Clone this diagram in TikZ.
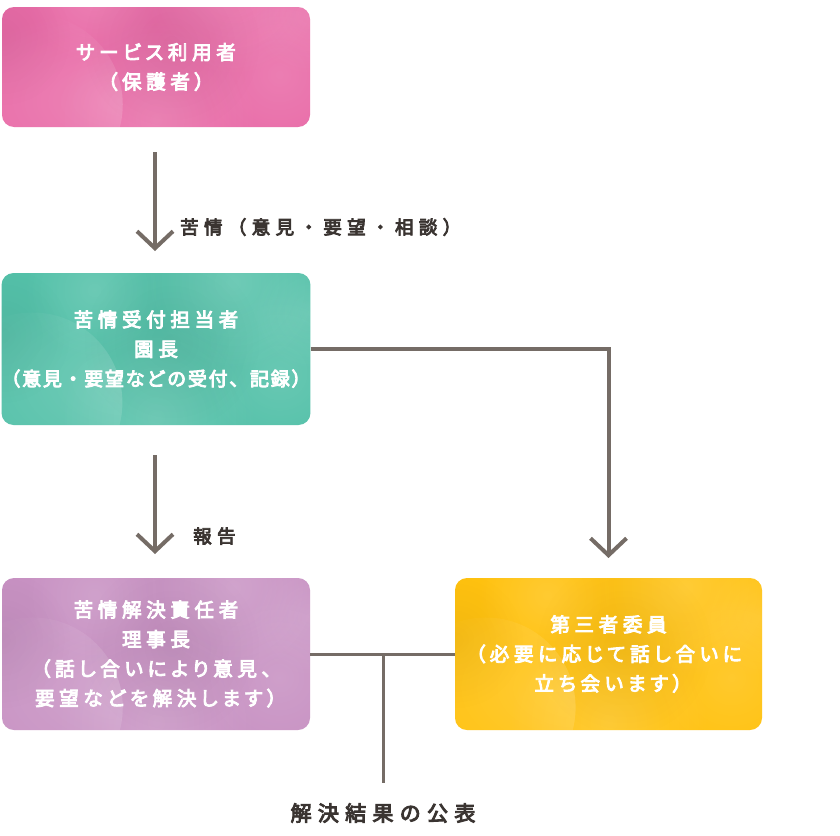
\documentclass[tikz,border=0pt]{standalone}
\usepackage{fontspec}
\setmainfont{Noto Sans CJK JP}
\newfontfamily\boxfont{Noto Sans CJK JP}[LetterSpace=24, FakeBold=4.5, RawFeature=+palt]
\newfontfamily\boxfontfw{Noto Sans CJK JP}[LetterSpace=9, FakeBold=4.5]
\newfontfamily\labfont{Noto Sans CJK JP}[LetterSpace=29, FakeBold=4.5]
\newfontfamily\resfont{Noto Sans CJK JP}[LetterSpace=30, FakeBold=4.5]
\usetikzlibrary{arrows.meta,fadings,calc}
\definecolor{pinkc}{HTML}{E96CA8}
\definecolor{tealc}{HTML}{54C1A9}
\definecolor{purpc}{HTML}{C892C3}
\definecolor{yelc}{HTML}{FFC210}
\definecolor{arrc}{HTML}{756C66}
\definecolor{labc}{HTML}{3A3431}
\tikzfading[name=softblob, inner color=transparent!0, outer color=transparent!100]
\tikzset{
  card/.style={rounded corners=12pt, minimum width=308pt, text=white, inner sep=0pt,
    font=\boxfont\fontsize{19.5}{29.5}\selectfont, align=center,
    path picture={
      \foreach \px/\py/\r/\o/\c in {0.1/0.15/90/0.18/white, 0.5/0.05/100/0.16/white, 0.9/0.35/80/0.12/white, 0.3/0.9/70/0.14/white, 0.75/0.95/90/0.16/white, 1.0/0.75/60/0.12/white, 0.55/0.55/90/0.06/black, 0.0/0.6/70/0.05/black}{
        \fill[\c, fill opacity=\o, path fading=softblob]
          ($(path picture bounding box.south west)!\px!(path picture bounding box.south east)+(0,{-\py*150})$) circle[radius=\r pt];
      }
    }},
  arr/.style={draw=arrc, line width=4pt, -{Straight Barb[length=17pt,width=36pt,line width=4pt]}},
  conn/.style={draw=arrc, line width=3pt},
  lab/.style={text=labc, font=\labfont\fontsize{18.5}{21}\selectfont, inner sep=0pt},
}
\begin{document}
\begin{tikzpicture}[x=1pt,y=-1pt]
\useasboundingbox (0,0) rectangle (840,835);
\node[card, fill=pinkc, minimum height=120pt] (b1) at (156,67) {サービス利用者\\（保護者）};
\node[card, fill=tealc, minimum height=152pt] (b2) at (156,349) {苦情受付担当者\\園長\\{\boxfontfw\fontsize{19}{29.5}\selectfont（意見・要望などの受付、記録）}};
\node[card, fill=purpc, minimum height=152pt] (b3) at (156,654) {苦情解決責任者\\理事長\\（話し合いにより意見、\\要望などを解決します）};
\node[card, fill=yelc, minimum width=307pt, minimum height=152pt] (b4) at (608.5,654) {第三者委員\\（必要に応じて話し合いに\\立ち会います）};
\node[lab, anchor=west] (l1) at (180,227) {苦情（意見・要望・相談）};
\node[lab, anchor=west] (l2) at (193,536) {報告};
\node[text=labc, font=\resfont\fontsize{21}{24}\selectfont, inner sep=0pt] (res) at (383,813) {解決結果の公表};
\coordinate (a1s) at (155,152);
\coordinate (a1e) at (155,251);
\coordinate (a2s) at (155,455);
\coordinate (a2e) at (155,554);
\coordinate (a3e) at (608.5,558);
\coordinate (j) at (383,654);
\coordinate (je) at (383,783);
\draw[arr] (a1s) -- (a1e);
\draw[arr] (a2s) -- (a2e);
\draw[arr] (b2.east) -| (a3e);
\draw[conn] (b3.east) -- (b4.west);
\draw[conn] (j) -- (je);
\end{tikzpicture}
\end{document}
